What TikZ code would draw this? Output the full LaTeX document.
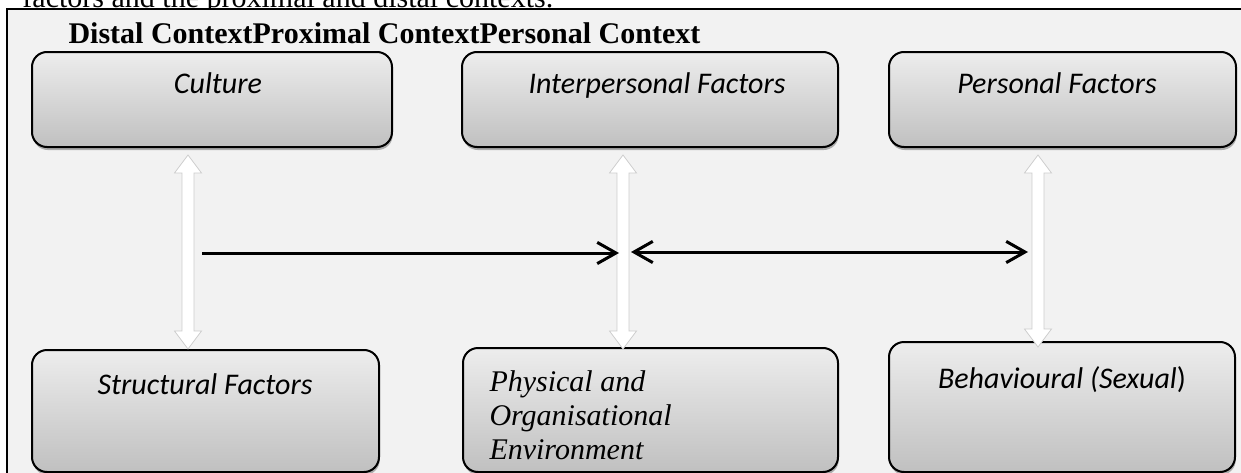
\documentclass[tikz,border=0pt]{standalone}
\usepackage{fontspec}
\setmainfont{Liberation Serif}
\newfontfamily\calibri{Carlito}
\usetikzlibrary{arrows.meta,calc,fit,shadows}
\definecolor{panel}{RGB}{242,242,242}
\definecolor{boxtop}{RGB}{237,237,237}
\definecolor{boxbot}{RGB}{192,192,192}
\begin{document}
\begin{tikzpicture}[x=0.4pt,y=-0.4pt,
  factor/.style={draw=black, line width=0.8pt, rounded corners=6pt,
    top color=boxtop, bottom color=boxbot, inner sep=0pt,
    drop shadow={shadow xshift=0.3pt, shadow yshift=-1.2pt, fill=gray!65, opacity=1}},
  factortext/.style={font=\calibri\itshape\fontsize{12}{14}\selectfont, inner sep=0pt, anchor=base},
  link/.style={line width=1.2pt},
  barb/.tip={Straight Barb[length=7.5pt,width=8.5pt]},
  blockarrow/.style={fill=white, draw=gray!40, line width=0.3pt}
]
\useasboundingbox (0,0) rectangle (1241,473);
\fill[white] (0,0) rectangle (1241,473);

% preceding line of the page, cut by the top edge
\node[anchor=base west, inner sep=0pt, font=\fontsize{12}{14}\selectfont] (prev) at (22,7)
  {factors and the proximal and distal contexts.};

% framed panel
\fill[panel] (7,9) rectangle (1270,495);
\draw[line width=1pt] (7,495) -- (7,9) -- (1270,9);

\node[anchor=base west, inner sep=0pt, font=\bfseries\fontsize{12}{14}\selectfont] (title) at (68,43)
  {Distal ContextProximal ContextPersonal Context};

% factor boxes
\node[factor, fit={(32,52) (392,147)}] (culture) {};
\node[factor, fit={(462,52) (838,147)}] (inter) {};
\node[factor, fit={(889,52) (1236,147)}] (personal) {};
\node[factor, fit={(32,350) (379,472)}] (structural) {};
\node[factor, fit={(463,348) (838,472)}] (physical) {};
\node[factor, fit={(889,342) (1235,472)}] (behav) {};

\node[factortext] (cultureT) at (218,93) {Culture};
\node[factortext] (interT) at (657,93) {Interpersonal Factors};
\node[factortext] (personalT) at (1057,93) {Personal Factors};
\node[factortext] (structT) at (205,394) {Structural Factors};
\node[factortext] (behavT) at (1062,388) {Behavioural (Sexual\/{\upshape)}};
\node[anchor=north west, inner sep=0pt, align=left,
  font=\itshape\fontsize{12}{13.6}\selectfont] (physT) at (489,370)
  {Physical and\\Organisational\\Environment};

% vertical two-way block arrows
\coordinate (a1t) at (188,155); \coordinate (a1b) at (188,349);
\coordinate (a2t) at (623,155); \coordinate (a2b) at (623,349);
\coordinate (a3t) at (1038,155); \coordinate (a3b) at (1038,347);
\foreach \t/\b in {a1t/a1b, a2t/a2b, a3t/a3b} {
  \path[blockarrow] (\t) -- ++(13.5,18) -- ++(-7.5,0) -- ($(\b)+(6,-18)$)
    -- ++(7.5,0) -- (\b) -- ++(-13.5,-18) -- ++(7.5,0) -- ($(\t)+(-6,18)$)
    -- ++(-7.5,0) -- cycle;
}

% horizontal links
\coordinate (h1s) at (202,253); \coordinate (h1e) at (619,253);
\coordinate (h2s) at (631,252); \coordinate (h2e) at (1028,252);
\draw[link, -barb] (h1s) -- (h1e);
\draw[link, barb-barb] (h2s) -- (h2e);
\end{tikzpicture}
\end{document}
